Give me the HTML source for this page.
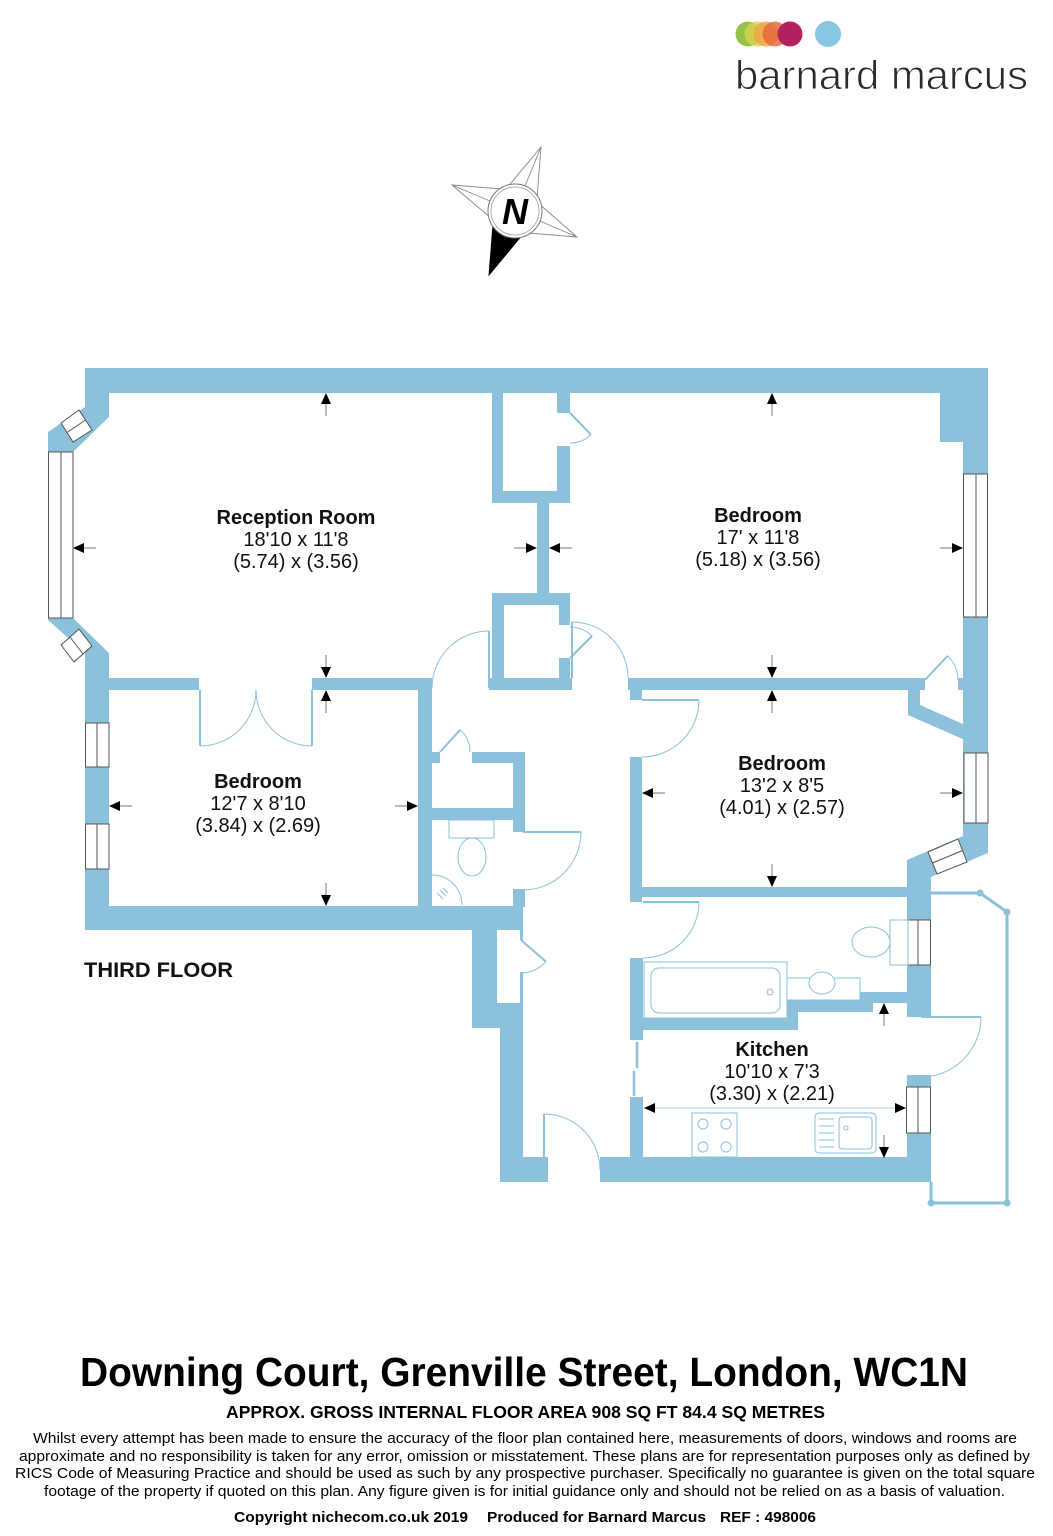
<!DOCTYPE html>
<html>
<head>
<meta charset="utf-8">
<style>
html,body{margin:0;padding:0;background:#fff;}
svg{display:block;}
text{font-family:"Liberation Sans",Arial,sans-serif;}
</style>
</head>
<body>
<svg width="1053" height="1536" viewBox="0 0 1053 1536" xmlns="http://www.w3.org/2000/svg">
<rect width="1053" height="1536" fill="#fff"/>

<!-- Logo -->
<g>
<circle cx="748" cy="34" r="12.5" fill="#95c248"/>
<circle cx="757" cy="34" r="12.5" fill="#d8d24c" opacity="0.8"/>
<circle cx="766" cy="34" r="12.5" fill="#eea448" opacity="0.85"/>
<circle cx="775" cy="34" r="12.5" fill="#e2643a" opacity="0.8"/>
<circle cx="790" cy="34" r="12.5" fill="#b3215e"/>
<circle cx="828" cy="34" r="13" fill="#88c6e1"/>
<text x="735" y="89" font-size="41" fill="#2a2a2a" stroke="#fff" stroke-width="0.9" textLength="293" lengthAdjust="spacingAndGlyphs">barnard marcus</text>
</g>

<!-- Compass -->
<g stroke="#888" stroke-width="0.9" fill="#fff">
<polygon points="541,147 537.2,195.5 515,211 509.9,184.4"/>
<polygon points="452,185 499.7,188.8 515,211 488.5,216"/>
<polygon points="577,237 530.3,233.2 515,211 541.5,206"/>
<line x1="541" y1="147" x2="525" y2="186"/>
<line x1="452" y1="185" x2="490" y2="201"/>
<line x1="577" y1="237" x2="540" y2="221"/>
<polygon points="489,275 492.8,226.5 520.1,237.6" fill="#000" stroke="#000"/>
<circle cx="515" cy="211" r="27" fill="#fff" stroke="#777" stroke-width="1"/>
<circle cx="515" cy="211" r="24" fill="#fff" stroke="#999" stroke-width="0.8"/>
</g>
<text x="515" y="224" font-size="36" font-weight="bold" font-style="italic" text-anchor="middle" fill="#000">N</text>

<!-- Walls -->
<g fill="#8bc1db">
<rect x="85" y="368" width="903" height="25"/>
<rect x="940" y="393" width="48" height="49"/>
<rect x="963" y="440" width="25" height="398"/>
<polygon points="963,836 988,836 988,853 931,877 931,1017 907,1017 907,860"/>
<rect x="907" y="1075" width="24" height="107"/>
<rect x="600" y="1157" width="331" height="25"/>
<polygon points="85,368 109,368 109,417 73,452 73,618 109,653 109,930 85,930 85,653 48,620 48,432 85,407"/>
<rect x="109" y="678" width="90" height="12"/>
<rect x="312" y="678" width="120" height="12"/>
<rect x="418" y="678" width="14" height="230"/>
<rect x="85" y="906" width="438" height="24"/>
<rect x="432" y="752" width="8" height="11"/>
<rect x="472" y="752" width="53" height="11"/>
<rect x="513" y="752" width="12" height="80"/>
<rect x="432" y="808" width="81" height="12"/>
<rect x="513" y="889" width="12" height="18"/>
<polygon points="472,930 523,930 523,1157 548,1157 548,1182 500,1182 500,1028 472,1028"/>
<rect x="492" y="393" width="11" height="110"/>
<rect x="492" y="491" width="78" height="12"/>
<rect x="557" y="393" width="13" height="20"/>
<rect x="557" y="446" width="13" height="57"/>
<rect x="537" y="503" width="12" height="90"/>
<rect x="492" y="593" width="78" height="12"/>
<rect x="492" y="593" width="12" height="97"/>
<rect x="489" y="678" width="83" height="12"/>
<rect x="559" y="605" width="11" height="20"/>
<rect x="559" y="658" width="11" height="32"/>
<rect x="628" y="678" width="297" height="12"/>
<rect x="630" y="690" width="12" height="10"/>
<rect x="958" y="678" width="7" height="12"/>
<polygon points="908,690 920,690 920,705 965,725 965,740 908,715"/>
<rect x="630" y="757" width="12" height="145"/>
<rect x="630" y="887" width="278" height="10"/>
<rect x="630" y="958" width="13" height="82"/>
<polygon points="643,1018 787,1018 787,1000 860,1000 860,992 907,992 907,1003 873,1003 873,1012 798,1012 798,1030 643,1030"/>
<rect x="630" y="1097" width="13" height="60"/>
</g>
<!-- hall cupboard interior -->
<rect x="497" y="930" width="23" height="73" fill="#fff"/>
<rect x="519" y="940" width="5" height="32" fill="#fff"/>

<!-- sliding door dashes -->
<g stroke="#8bc1db" stroke-width="2.5">
<line x1="637" y1="1042" x2="637" y2="1068"/>
<line x1="634" y1="1071" x2="634" y2="1096"/>
</g>

<!-- Balcony -->
<g stroke="#8bc1db" stroke-width="3" fill="none">
<polyline points="931,893 980,893 1007,912 1007,1203 931,1203 931,1182"/>
</g>
<g fill="#8bc1db">
<circle cx="980" cy="893" r="3.5"/>
<circle cx="1007" cy="912" r="3.5"/>
<circle cx="1007" cy="1203" r="3.5"/>
<circle cx="931" cy="1203" r="3.5"/>
</g>

<!-- Windows -->
<g fill="#fff" stroke="#555" stroke-width="1">
<rect x="48.5" y="452" width="24.5" height="166"/>
<line x1="61" y1="452" x2="61" y2="618"/>
<polygon points="61,423 79,410 92,430 73,442"/>
<line x1="85.5" y1="420" x2="67" y2="432.5"/>
<polygon points="61,645 79,629 92,646 74,662"/>
<line x1="70" y1="637" x2="83" y2="654"/>
<rect x="85.5" y="723" width="23.5" height="44"/>
<line x1="97" y1="723" x2="97" y2="767"/>
<rect x="85.5" y="824" width="23.5" height="45"/>
<line x1="97" y1="824" x2="97" y2="869"/>
<rect x="963.5" y="474" width="24" height="143"/>
<line x1="976" y1="474" x2="976" y2="617"/>
<rect x="964" y="753" width="24" height="70"/>
<line x1="976" y1="753" x2="976" y2="823"/>
<polygon points="928,852 958,839 967,862 937,874"/>
<line x1="962.5" y1="850.5" x2="932.5" y2="863"/>
<rect x="906.5" y="920" width="24" height="45"/>
<line x1="918" y1="920" x2="918" y2="965"/>
<rect x="906.5" y="1087" width="24" height="46"/>
<line x1="918" y1="1087" x2="918" y2="1133"/>
</g>

<!-- Doors -->
<g stroke="#8bc1db" fill="none">
<g stroke-width="1">
<path d="M591,434.6 A30,30 0 0 1 570,443"/>
<path d="M592,636 A31,31 0 0 0 570,627"/>
<path d="M489,631 A57,57 0 0 0 432,688"/>
<path d="M572,622 A56,56 0 0 1 628,678"/>
<path d="M699,700 A57,57 0 0 1 642,757"/>
<path d="M699,902 A56,56 0 0 1 643,958"/>
<path d="M581,832 A58,58 0 0 1 523,890"/>
<path d="M460.2,729.8 A30,30 0 0 1 470,752"/>
<path d="M545.9,961.6 A33,33 0 0 1 521,973"/>
<path d="M256,690 A56,56 0 0 1 200,746"/>
<path d="M256,690 A56,56 0 0 0 312,746"/>
<path d="M947.5,655.9 A33,33 0 0 1 958,680"/>
<path d="M981,1017 A60,60 0 0 1 921,1077"/>
<path d="M544,1114 A56,56 0 0 1 600,1170"/>
</g>
<g stroke-width="2">
<line x1="570" y1="413" x2="591" y2="434.6"/>
<line x1="570" y1="658" x2="592" y2="636"/>
<line x1="489" y1="688" x2="489" y2="631"/>
<line x1="572" y1="678" x2="572" y2="622"/>
<line x1="642" y1="700" x2="699" y2="700"/>
<line x1="643" y1="902" x2="699" y2="902"/>
<line x1="523" y1="832" x2="581" y2="832"/>
<line x1="440" y1="752" x2="460.2" y2="729.8"/>
<line x1="521" y1="940" x2="545.9" y2="961.6"/>
<line x1="200" y1="690" x2="200" y2="746"/>
<line x1="312" y1="690" x2="312" y2="746"/>
<line x1="925" y1="680" x2="947.5" y2="655.9"/>
<line x1="921" y1="1017" x2="981" y2="1017"/>
<line x1="544" y1="1170" x2="544" y2="1114"/>
</g>
</g>

<!-- Fixtures -->
<g stroke="#8bc1db" stroke-width="1" fill="#fff">
<rect x="449" y="820" width="45" height="18" rx="1"/>
<ellipse cx="472" cy="857" rx="14" ry="19"/>
<path d="M432,875 A30,30 0 0 1 462,905" fill="none"/>
<path d="M437,893 l6,6 M440,890 l6,6 M443,888 l5,5" fill="none"/>
<rect x="890" y="920" width="18" height="45"/>
<ellipse cx="871" cy="942" rx="19" ry="15"/>
<rect x="644" y="962" width="143" height="56"/>
<rect x="651" y="968" width="129" height="45" rx="8"/>
<circle cx="770" cy="992" r="3"/>
<rect x="787" y="978" width="73" height="22"/>
<ellipse cx="822" cy="983" rx="13" ry="11"/>
<rect x="692" y="1113" width="45" height="44"/>
<circle cx="703" cy="1124" r="5"/>
<circle cx="726" cy="1124" r="5"/>
<circle cx="703" cy="1147" r="5"/>
<circle cx="726" cy="1147" r="5"/>
<rect x="815" y="1113" width="61" height="40" rx="4"/>
<rect x="839" y="1117" width="33" height="32" rx="3"/>
<circle cx="846" cy="1128" r="2"/>
<path d="M819,1119 h15 M819,1126 h15 M819,1133 h15 M819,1140 h15 M819,1147 h15" fill="none"/>
</g>
<line x1="644" y1="1108" x2="906" y2="1108" stroke="#a9cfe0" stroke-width="1"/>

<!-- Arrows -->
<g stroke="#777" stroke-width="1">
<line x1="326" y1="404" x2="326" y2="416"/>
<line x1="84" y1="548" x2="96" y2="548"/>
<line x1="526" y1="548" x2="514" y2="548"/>
<line x1="326" y1="667" x2="326" y2="655"/>
<line x1="772" y1="404" x2="772" y2="416"/>
<line x1="560" y1="548" x2="572" y2="548"/>
<line x1="952" y1="548" x2="940" y2="548"/>
<line x1="772" y1="667" x2="772" y2="655"/>
<line x1="326" y1="701" x2="326" y2="713"/>
<line x1="120" y1="806" x2="132" y2="806"/>
<line x1="407" y1="806" x2="395" y2="806"/>
<line x1="326" y1="895" x2="326" y2="883"/>
<line x1="772" y1="701" x2="772" y2="713"/>
<line x1="653" y1="793" x2="665" y2="793"/>
<line x1="952" y1="793" x2="940" y2="793"/>
<line x1="772" y1="876" x2="772" y2="864"/>
<line x1="884" y1="1014" x2="884" y2="1026"/>
<line x1="884" y1="1147" x2="884" y2="1135"/>
</g>
<g fill="#000">
<polygon points="326,393 321,404 331,404"/>
<polygon points="73,548 84,543 84,553"/>
<polygon points="537,548 526,543 526,553"/>
<polygon points="326,678 321,667 331,667"/>
<polygon points="772,393 767,404 777,404"/>
<polygon points="549,548 560,543 560,553"/>
<polygon points="963,548 952,543 952,553"/>
<polygon points="772,678 767,667 777,667"/>
<polygon points="326,690 321,701 331,701"/>
<polygon points="109,806 120,801 120,811"/>
<polygon points="418,806 407,801 407,811"/>
<polygon points="326,906 321,895 331,895"/>
<polygon points="772,690 767,701 777,701"/>
<polygon points="642,793 653,788 653,798"/>
<polygon points="963,793 952,788 952,798"/>
<polygon points="772,887 767,876 777,876"/>
<polygon points="644,1108 655,1103 655,1113"/>
<polygon points="906,1108 895,1103 895,1113"/>
<polygon points="884,1003 879,1014 889,1014"/>
<polygon points="884,1158 879,1147 889,1147"/>
</g>

<!-- Room labels -->
<g fill="#111" font-size="20" text-anchor="middle">
<text x="296" y="524" font-weight="bold">Reception Room</text>
<text x="296" y="546">18'10 x 11'8</text>
<text x="296" y="568">(5.74) x (3.56)</text>

<text x="758" y="522" font-weight="bold">Bedroom</text>
<text x="758" y="544">17' x 11'8</text>
<text x="758" y="566">(5.18) x (3.56)</text>

<text x="258" y="788" font-weight="bold">Bedroom</text>
<text x="258" y="810">12'7 x 8'10</text>
<text x="258" y="832">(3.84) x (2.69)</text>

<text x="782" y="770" font-weight="bold">Bedroom</text>
<text x="782" y="792">13'2 x 8'5</text>
<text x="782" y="814">(4.01) x (2.57)</text>

<text x="772" y="1056" font-weight="bold">Kitchen</text>
<text x="772" y="1078">10'10 x 7'3</text>
<text x="772" y="1100">(3.30) x (2.21)</text>
</g>
<text x="84" y="977" font-size="21.5" font-weight="bold" fill="#111" textLength="149" lengthAdjust="spacingAndGlyphs">THIRD FLOOR</text>

<!-- Footer -->
<text x="80" y="1386" font-size="41" font-weight="bold" fill="#000" textLength="888" lengthAdjust="spacingAndGlyphs">Downing Court, Grenville Street, London, WC1N</text>
<text x="226" y="1418" font-size="17.5" font-weight="bold" fill="#000" textLength="599" lengthAdjust="spacingAndGlyphs">APPROX. GROSS INTERNAL FLOOR AREA 908 SQ FT 84.4 SQ METRES</text>
<g font-size="15" fill="#000">
<text x="33" y="1443" textLength="984" lengthAdjust="spacingAndGlyphs">Whilst every attempt has been made to ensure the accuracy of the floor plan contained here, measurements of doors, windows and rooms are</text>
<text x="19" y="1461" textLength="1011" lengthAdjust="spacingAndGlyphs">approximate and no responsibility is taken for any error, omission or misstatement. These plans are for representation purposes only as defined by</text>
<text x="15" y="1478" textLength="1020" lengthAdjust="spacingAndGlyphs">RICS Code of Measuring Practice and should be used as such by any prospective purchaser.  Specifically no guarantee is given on the total square</text>
<text x="44" y="1496" textLength="961" lengthAdjust="spacingAndGlyphs">footage of the property if quoted on this plan. Any figure given is for initial guidance only and should not be relied on as a basis of valuation.</text>
</g>
<g font-size="15" font-weight="bold" fill="#000">
<text x="234" y="1522" textLength="234" lengthAdjust="spacingAndGlyphs">Copyright nichecom.co.uk 2019</text>
<text x="487" y="1522" textLength="219" lengthAdjust="spacingAndGlyphs">Produced for Barnard Marcus</text>
<text x="720" y="1522" textLength="96" lengthAdjust="spacingAndGlyphs">REF : 498006</text>
</g>
</svg>
</body>
</html>
